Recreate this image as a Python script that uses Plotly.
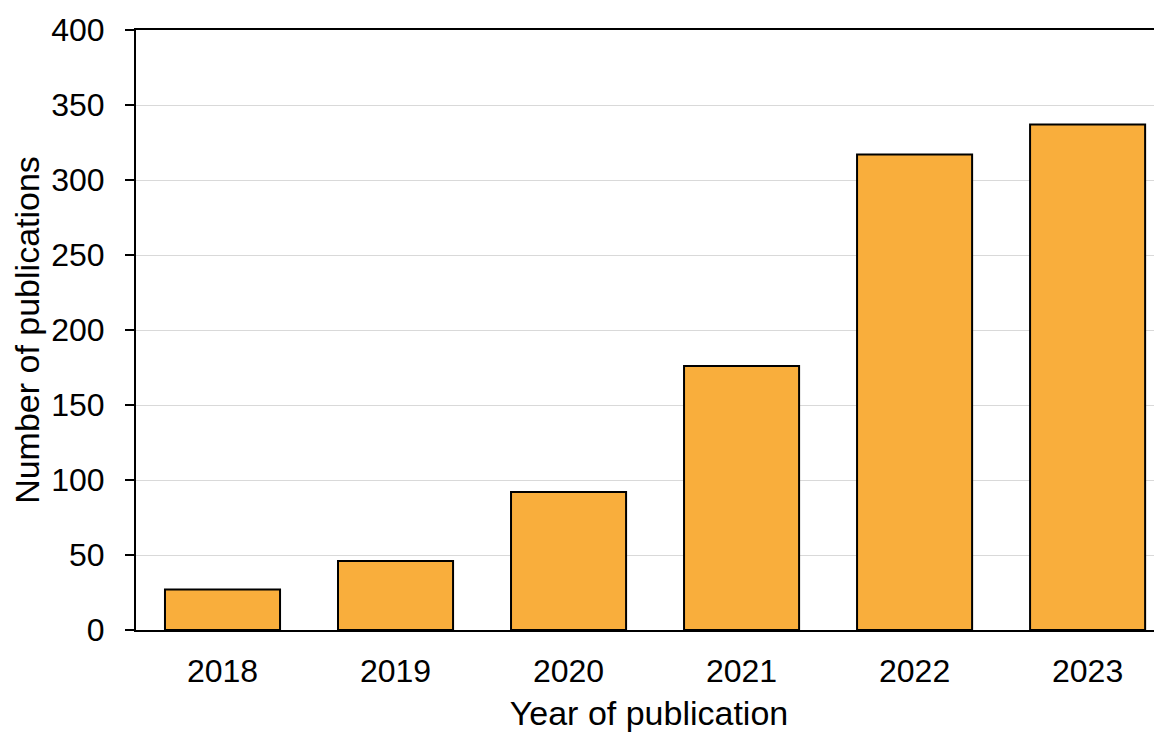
import plotly.graph_objects as go

years = ["2018", "2019", "2020", "2021", "2022", "2023"]
publications = [27, 46, 92, 176, 317, 337]
y_ticks = [0, 50, 100, 150, 200, 250, 300, 350, 400]

font = "Liberation Sans, Arial, sans-serif"

fig = go.Figure(
    go.Bar(
        x=years,
        y=publications,
        width=0.665,
        marker=dict(color="#F9AE3C", line=dict(color="black", width=2)),
    )
)

# page body has an 8px margin, so the figure is shrunk by that much
fig.update_layout(
    width=1154,
    height=725,
    margin=dict(l=128, r=0, t=22, b=103),
    plot_bgcolor="white",
    paper_bgcolor="white",
    font=dict(family=font, size=32, color="black"),
    showlegend=False,
)

fig.update_xaxes(
    type="category",
    range=[-0.5, 5.43],
    showline=True,
    linecolor="black",
    linewidth=2,
    mirror=True,
    ticks="",
    ticklabelstandoff=12,
    showgrid=False,
    title=dict(text="Year of publication", font=dict(size=34), standoff=13),
)

fig.update_yaxes(
    range=[0, 400],
    tickvals=y_ticks,
    showline=True,
    linecolor="black",
    linewidth=2,
    ticks="outside",
    ticklen=9,
    tickwidth=2,
    tickcolor="black",
    ticklabelstandoff=14,
    showgrid=True,
    gridcolor="#d9d9d9",
    gridwidth=1,
    zeroline=False,
    title=dict(text="Number of publications", font=dict(size=34), standoff=14),
)

fig.write_html("out.html")
